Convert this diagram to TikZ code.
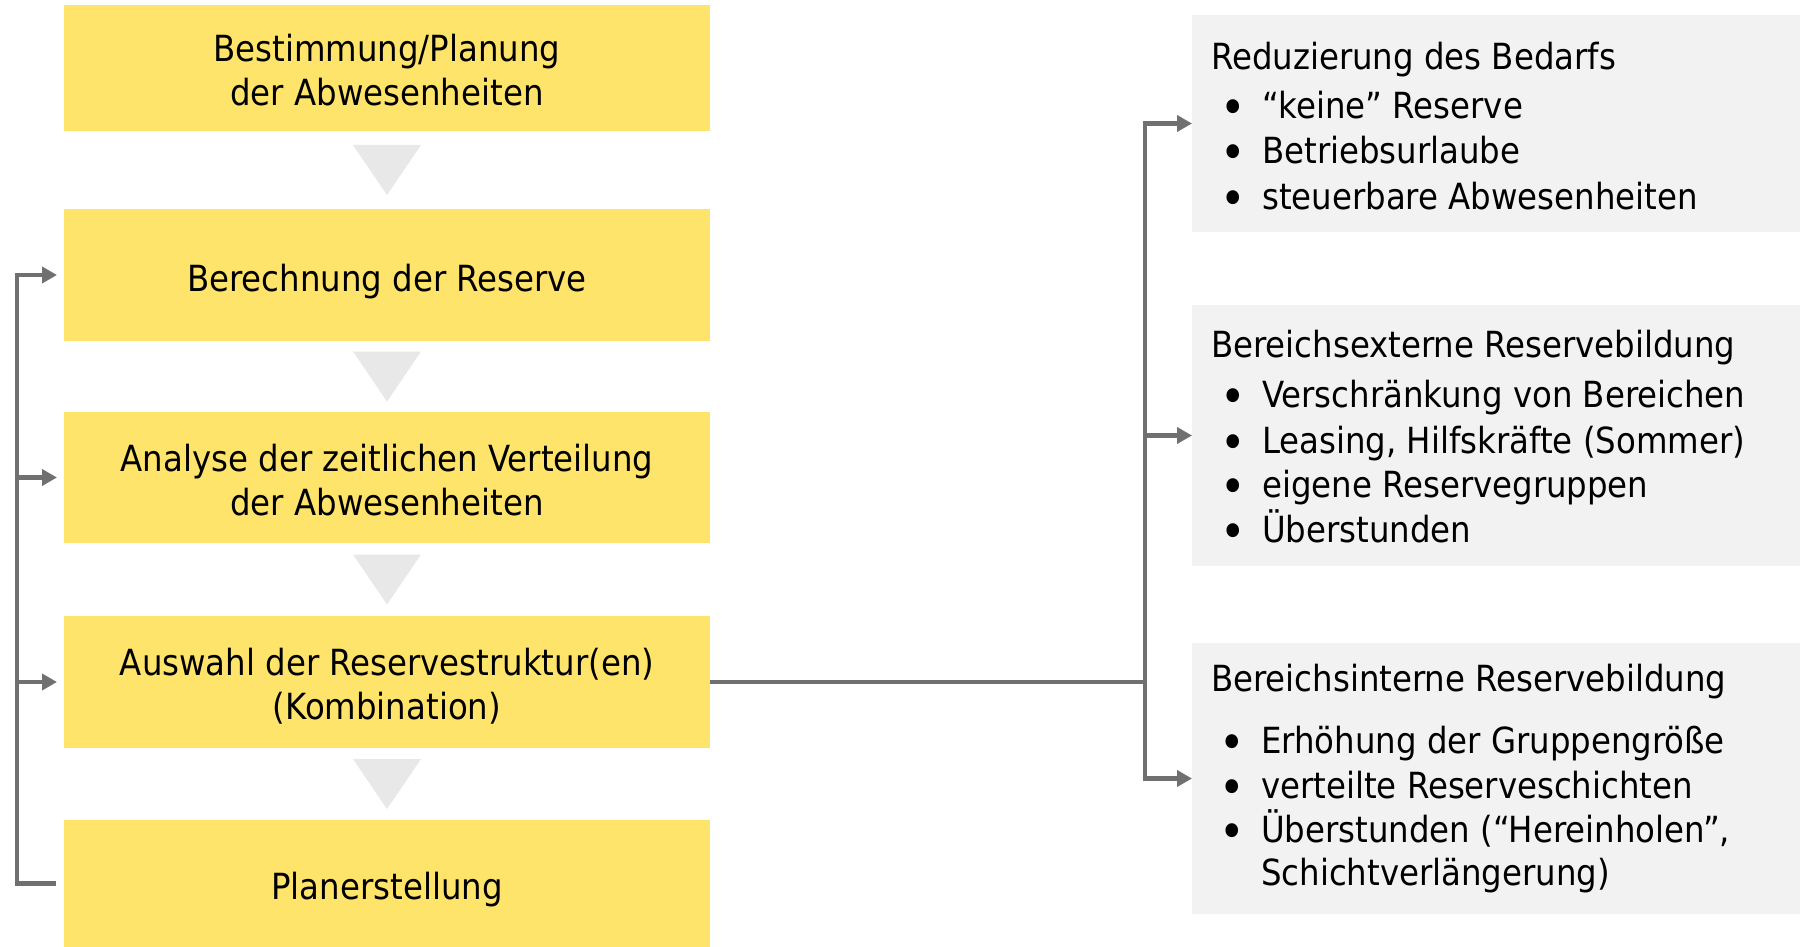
\documentclass[tikz,border=0pt]{standalone}
\usepackage{fontspec}
\setmainfont{DejaVu Sans Condensed}
\usetikzlibrary{arrows.meta,calc}

\definecolor{stepyellow}{HTML}{FFE46B}
\definecolor{panelgray}{HTML}{F2F2F2}
\definecolor{flowgray}{HTML}{E7E8E7}
\definecolor{linkgray}{HTML}{707070}

\begin{document}
\begin{tikzpicture}[x=1pt,y=-1pt,
  bigfont/.style={font=\fontsize{36pt}{44pt}\selectfont},
  stepbox/.style={bigfont, fill=stepyellow, draw=none, minimum width=646pt,
    inner sep=0pt, outer sep=0pt, align=center, text depth=0pt},
  oneline/.style={text height=32pt},
  twoline/.style={text height=75pt},
  panel/.style={fill=panelgray, draw=none, inner sep=0pt, outer sep=0pt,
    minimum width=608pt, anchor=north west},
  paneltext/.style={bigfont, anchor=base west, inner sep=0pt},
  bulletmark/.style={font=\fontsize{48pt}{48pt}\selectfont, anchor=base, inner sep=0pt, yshift=-6pt},
  conn/.style={draw=linkgray, line width=4.5pt},
  tipend/.style={-{Triangle[length=15pt,width=16pt]}},
  tipboth/.style={{Triangle[length=15pt,width=16pt]}-{Triangle[length=15pt,width=16pt]}}
]
\fill[white] (0,0) rectangle (1800,947);
\useasboundingbox (0,0) rectangle (1800,947);

% process steps
\node[stepbox, twoline, minimum height=126pt] (p1) at (387,68) {Bestimmung/Planung\\der Abwesenheiten};
\node[stepbox, oneline, minimum height=132pt] (p2) at (387,275) {Berechnung der Reserve};
\node[stepbox, twoline, minimum height=131pt] (p3) at (387,477.5) {Analyse der zeitlichen Verteilung\\der Abwesenheiten};
\node[stepbox, twoline, minimum height=132pt] (p4) at (387,682) {Auswahl der Reservestruktur(en)\\(Kombination)};
\node[stepbox, oneline, minimum height=127pt] (p5) at (387,883.5) {Planerstellung};

% flow markers between the steps
\foreach \a/\b in {p1/p2,p2/p3,p3/p4,p4/p5}{
  \path ($(\a.south)!0.5!(\b.north)$) coordinate (m);
  \fill[flowgray] ([shift={(-34,-25)}]m) -- ([shift={(34,-25)}]m) -- ([shift={(0,25)}]m) -- cycle;
}

% option panels
\node[panel, minimum height=217pt] (r1) at (1192,15) {};
\node[panel, minimum height=261pt] (r2) at (1192,305) {};
\node[panel, minimum height=271pt] (r3) at (1192,643) {};

\node[paneltext] (t1) at (1211,70) {Reduzierung des Bedarfs};
\node[bulletmark] (b11) at (1233,119) {•};
\node[paneltext] (i11) at (1262,119) {“keine” Reserve};
\node[bulletmark] (b12) at (1233,164) {•};
\node[paneltext] (i12) at (1262,164) {Betriebsurlaube};
\node[bulletmark] (b13) at (1233,209) {•};
\node[paneltext] (i13) at (1262,209) {steuerbare Abwesenheiten};

\node[paneltext] (t2) at (1211,357) {Bereichsexterne Reservebildung};
\node[bulletmark] (b21) at (1233,407) {•};
\node[paneltext] (i21) at (1262,407) {Verschränkung von Bereichen};
\node[bulletmark] (b22) at (1233,453) {•};
\node[paneltext] (i22) at (1262,453) {Leasing, Hilfskräfte (Sommer)};
\node[bulletmark] (b23) at (1233,497) {•};
\node[paneltext] (i23) at (1262,497) {eigene Reservegruppen};
\node[bulletmark] (b24) at (1233,542) {•};
\node[paneltext] (i24) at (1262,542) {Überstunden};

\node[paneltext] (t3) at (1211,691) {Bereichsinterne Reservebildung};
\node[bulletmark] (b31) at (1232,753) {•};
\node[paneltext] (i31) at (1261,753) {Erhöhung der Gruppengröße};
\node[bulletmark] (b32) at (1232,798) {•};
\node[paneltext] (i32) at (1261,798) {verteilte Reserveschichten};
\node[bulletmark] (b33) at (1232,842) {•};
\node[paneltext] (i33) at (1261,842) {Überstunden (“Hereinholen”,};
\node[paneltext] (i34) at (1261,885) {Schichtverlängerung)};

% connectors
\coordinate (lbus) at (17,0);
\coordinate (rbus) at (1145,0);

\draw[conn, tipend] ([xshift=-8pt]p5.west) -- (p5.west -| lbus) -- (p2.west -| lbus) -- ([xshift=-7pt]p2.west);
\draw[conn, tipend] (p3.west -| lbus) -- ([xshift=-7pt]p3.west);
\draw[conn, tipend] (p4.west -| lbus) -- ([xshift=-7pt]p4.west);

\draw[conn] (p4.east) -- (p4.east -| rbus);
\draw[conn, tipboth] (r1.west) -- (r1.west -| rbus) -- (r3.west -| rbus) -- (r3.west);
\draw[conn, tipend] (r2.west -| rbus) -- (r2.west);
\end{tikzpicture}
\end{document}
